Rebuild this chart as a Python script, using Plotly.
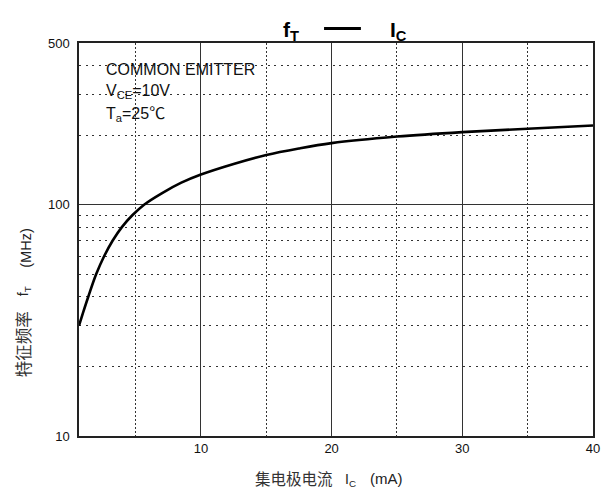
import plotly.graph_objects as go

# Data
ic_ma = [0.67, 1.0, 1.38, 1.98, 2.6, 3.25, 3.95, 4.75, 5.65, 7.0, 8.5, 10.0,
         12.5, 15.0, 17.5, 20.0, 25.0, 30.0, 35.0, 40.0]
ft_mhz = [30, 34.4, 40, 50, 60, 70, 80, 90, 100, 112, 124.5, 135,
          150, 164, 175, 184.5, 197, 206, 213, 220]

x_ticks = [10, 20, 30, 40]
y_ticks = [10, 100, 500]
y_minor = [20, 30, 40, 50, 60, 70, 80, 90, 200, 300, 400]

W, H = 612, 493
L, R, T, B = 79, 17, 43, 57
PW, PH = W - L - R, H - T - B


def px(xp):
    return (xp - L) / PW


def py(yp):
    return (H - B - yp) / PH


FONT = "Arial, Liberation Sans, sans-serif"
CJK = "Liberation Sans, Noto Sans CJK SC, sans-serif"

fig = go.Figure()
fig.add_trace(go.Scatter(
    x=ic_ma, y=ft_mhz, mode="lines",
    line=dict(color="black", width=2.6, shape="spline", smoothing=1.0),
    hoverinfo="skip", showlegend=False,
))

fig.update_layout(
    width=W, height=H,
    margin=dict(l=L, r=R, t=T, b=B),
    paper_bgcolor="white", plot_bgcolor="white",
    showlegend=False,
    xaxis=dict(
        range=[0.67, 40], tickvals=x_ticks, ticks="",
        showline=True, mirror=True, linecolor="#222", linewidth=1.5,
        showgrid=True, gridcolor="#333", gridwidth=1,
        zeroline=False,
        tickfont=dict(family=FONT, size=13, color="#111"),
        minor=dict(dtick=5, tick0=0, showgrid=True, gridcolor="#333",
                   gridwidth=1, griddash="1.5px,2.5px", ticks=""),
    ),
    yaxis=dict(
        type="log", range=[1, 2.69897], tickvals=y_ticks, ticks="",
        showline=True, mirror=True, linecolor="#222", linewidth=1.5,
        showgrid=True, gridcolor="#333", gridwidth=1,
        zeroline=False, ticklabelstandoff=5,
        tickfont=dict(family=FONT, size=13, color="#111"),
        minor=dict(tickvals=y_minor, showgrid=True, gridcolor="#333",
                   gridwidth=1, griddash="2px,4.5px", ticks=""),
    ),
)

# white box behind the condition text
fig.add_shape(type="rect", xref="paper", yref="paper",
              x0=px(93), x1=px(262), y0=py(130), y1=py(57),
              fillcolor="white", line=dict(width=0), layer="between")

# condition text
fig.add_annotation(xref="paper", yref="paper", x=px(104), y=py(69),
                   xanchor="left", yanchor="middle", showarrow=False,
                   text="COMMON EMITTER",
                   font=dict(family=FONT, size=16, color="#111"))
fig.add_annotation(xref="paper", yref="paper", x=px(104), y=py(92),
                   xanchor="left", yanchor="middle", showarrow=False,
                   text="V<sub>CE</sub>=10V",
                   font=dict(family=FONT, size=16, color="#111"))
fig.add_annotation(xref="paper", yref="paper", x=px(104), y=py(114),
                   xanchor="left", yanchor="middle", showarrow=False,
                   text="T<sub>a</sub>=25℃",
                   font=dict(family=CJK, size=16, color="#111"))

# title
fig.add_annotation(xref="paper", yref="paper", x=px(282), y=py(31),
                   xanchor="left", yanchor="middle", showarrow=False,
                   text="<b>f<sub>T</sub></b>",
                   font=dict(family=FONT, size=21, color="black"))
fig.add_shape(type="line", xref="paper", yref="paper",
              x0=px(325), x1=px(362), y0=py(28.5), y1=py(28.5),
              line=dict(color="black", width=3), layer="above")
fig.add_annotation(xref="paper", yref="paper", x=px(389), y=py(31),
                   xanchor="left", yanchor="middle", showarrow=False,
                   text="<b>I<sub>C</sub></b>",
                   font=dict(family=FONT, size=21, color="black"))

# x axis label
fig.add_annotation(xref="paper", yref="paper", x=px(254), y=py(478),
                   xanchor="left", yanchor="middle", showarrow=False,
                   text="集电极电流",
                   font=dict(family="Noto Sans CJK SC", size=15.5, color="#333"))
fig.add_annotation(xref="paper", yref="paper", x=px(344), y=py(480),
                   xanchor="left", yanchor="middle", showarrow=False,
                   text="I<sub>C</sub>",
                   font=dict(family=FONT, size=14, color="#222"))
fig.add_annotation(xref="paper", yref="paper", x=px(369), y=py(478),
                   xanchor="left", yanchor="middle", showarrow=False,
                   text="(mA)",
                   font=dict(family=FONT, size=15, color="#222"))

# y axis label (rotated)
fig.add_annotation(xref="paper", yref="paper", x=px(23), y=py(379),
                   xanchor="center", yanchor="bottom", showarrow=False,
                   textangle=-90, text="特征频率",
                   font=dict(family="Noto Sans CJK SC", size=16.5, color="#333"))
fig.add_annotation(xref="paper", yref="paper", x=px(24), y=py(298),
                   xanchor="center", yanchor="bottom", showarrow=False,
                   textangle=-90, text="f<sub>T</sub>",
                   font=dict(family=FONT, size=14, color="#222"))
fig.add_annotation(xref="paper", yref="paper", x=px(25), y=py(270),
                   xanchor="center", yanchor="bottom", showarrow=False,
                   textangle=-90, text="(MHz)",
                   font=dict(family=FONT, size=14.5, color="#222"))

fig.write_html("out.html", config={"displayModeBar": False},
               post_script="document.body.style.margin='0';")
